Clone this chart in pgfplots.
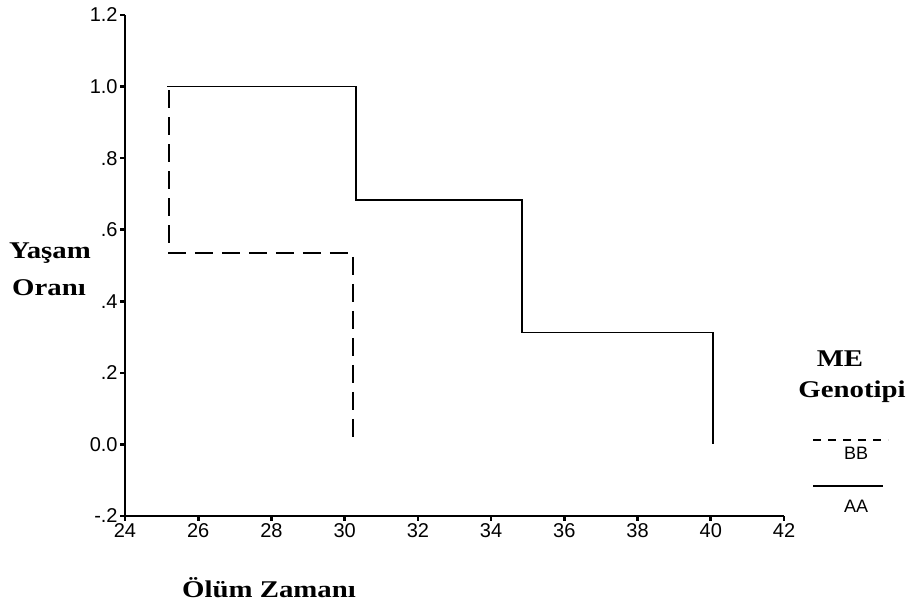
\documentclass[border=0pt]{standalone}
\usepackage{fontspec}
\setmainfont{Liberation Sans}
\newfontfamily\lblfont{Liberation Serif}[FakeStretch=1.2]
\usepackage{pgfplots}
\pgfplotsset{compat=1.18}
\begin{document}
\begin{tikzpicture}
\useasboundingbox (0pt,0pt) rectangle (458pt,302.5pt);
\begin{axis}[
  at={(62.5pt,44.5pt)}, anchor=south west,
  scale only axis, width=329.5pt, height=250.5pt,
  xmin=24, xmax=42, ymin=-0.2, ymax=1.2,
  axis x line*=bottom, axis y line*=left,
  axis line style={-, line width=1pt},
  xtick={24,26,...,42},
  ytick={-0.2,0,0.2,0.4,0.6,0.8,1.0,1.2},
  yticklabels={-.2,0.0,.2,.4,.6,.8,1.0,1.2},
  tick align=outside, major tick length=2.5pt,
  tick style={line width=1.3pt, black},
  /pgf/number format/assume math mode=true,
  ticklabel style={font=\fontsize{10}{12}\selectfont, inner sep=1pt},
  clip=false,
]
\addplot[black, line width=0.9pt] coordinates {
  (25.15,1.0) (30.31,1.0) (30.31,0.683) (34.84,0.683) (34.84,0.313) (40.06,0.313) (40.06,0)
};
\addplot[black, line width=0.9pt, dash pattern=on 9pt off 4.5pt] coordinates {
  (25.2,0.99) (25.2,0.534) (30.23,0.534) (30.23,0)
};
\end{axis}
\begin{scope}[font=\lblfont\bfseries\fontsize{12}{14}\selectfont]
\node at (25pt,176pt) {Yaşam};
\node at (24.5pt,158.5pt) {Oranı};
\node at (134.5pt,8.5pt) {Ölüm Zamanı};
\node at (420pt,123pt) {ME};
\node at (426pt,106.5pt) {Genotipi};
\end{scope}
\draw[black, line width=0.9pt, dash pattern=on 4pt off 3.5pt] (406.5pt,82.5pt) -- (444pt,82.5pt);
\node[font=\fontsize{9}{11}\selectfont] at (428pt,76pt) {BB};
\draw[black, line width=0.9pt] (406.5pt,59.5pt) -- (441.5pt,59.5pt);
\node[font=\fontsize{9}{11}\selectfont] at (428pt,49.5pt) {AA};
\end{tikzpicture}
\end{document}
